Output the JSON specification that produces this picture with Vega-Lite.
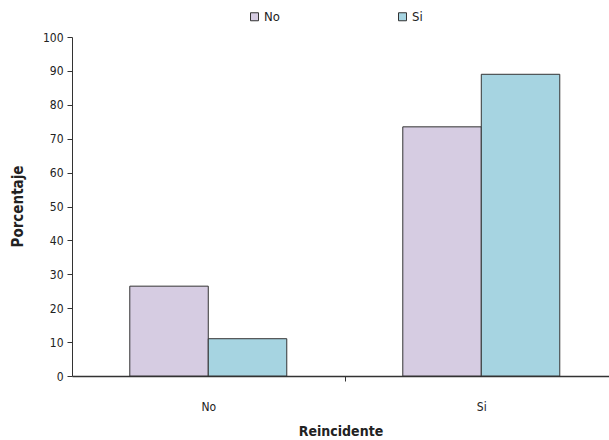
{
  "$schema": "https://vega.github.io/schema/vega-lite/v6.json",
  "autosize": "none",
  "padding": {"left": 72, "top": 37, "right": 0, "bottom": 64},
  "width": 537,
  "height": 339,
  "background": "white",
  "data": {
    "values": [
      {"reincidente": "No", "grupo": "No", "porcentaje": 26.5},
      {"reincidente": "No", "grupo": "Si", "porcentaje": 11},
      {"reincidente": "Si", "grupo": "No", "porcentaje": 73.5},
      {"reincidente": "Si", "grupo": "Si", "porcentaje": 89}
    ]
  },
  "config": {
    "view": {"stroke": null},
    "font": "Liberation Sans Narrow, DejaVu Sans Condensed, Liberation Sans, sans-serif",
    "axis": {"grid": false, "domainColor": "#333", "tickColor": "#333", "labelColor": "#222", "titleColor": "#222", "labelFont": "Liberation Sans Narrow, DejaVu Sans Condensed, Liberation Sans, sans-serif", "titleFont": "Liberation Sans Narrow, DejaVu Sans Condensed, Liberation Sans, sans-serif"}
  },
  "mark": {"type": "bar", "stroke": "#333", "strokeWidth": 1},
  "encoding": {
    "x": {
      "field": "reincidente",
      "type": "nominal",
      "sort": ["No", "Si"],
      "scale": {"paddingInner": 0.425, "paddingOuter": 0.196, "align": 0.54},
      "axis": {"title": "Reincidente", "labelAngle": 0, "tickOffset": 136.5, "labelOffset": -136.5, "labelFontSize": 12, "labelPadding": 20, "titleFontSize": 14, "titleFontWeight": "bold", "titlePadding": 12, "tickSize": 5, "domainWidth": 1.5}
    },
    "xOffset": {"field": "grupo", "type": "nominal", "sort": ["No", "Si"]},
    "y": {
      "field": "porcentaje",
      "type": "quantitative",
      "scale": {"domain": [0, 100], "nice": false},
      "axis": {"title": "Porcentaje", "values": [0,10,20,30,40,50,60,70,80,90,100], "labelFontSize": 12, "labelPadding": 4, "tickSize": 5, "titleFontSize": 15, "titleFontWeight": "bold", "titleX": -47, "titleY": 169, "titleAngle": 270, "titleAlign": "center", "titleBaseline": "bottom"}
    },
    "color": {
      "field": "grupo",
      "type": "nominal",
      "sort": ["No", "Si"],
      "scale": {"domain": ["No", "Si"], "range": ["#D6CCE2", "#A6D4E1"]},
      "legend": {"title": null, "orient": "none", "legendX": 176, "legendY": -27, "direction": "horizontal", "symbolType": "square", "symbolSize": 64, "symbolStrokeColor": "#333", "symbolStrokeWidth": 1, "labelFontSize": 13, "labelFont": "Liberation Sans Narrow, DejaVu Sans Condensed, Liberation Sans, sans-serif", "labelColor": "#222", "columnPadding": 116, "labelOffset": 3}
    }
  }
}
